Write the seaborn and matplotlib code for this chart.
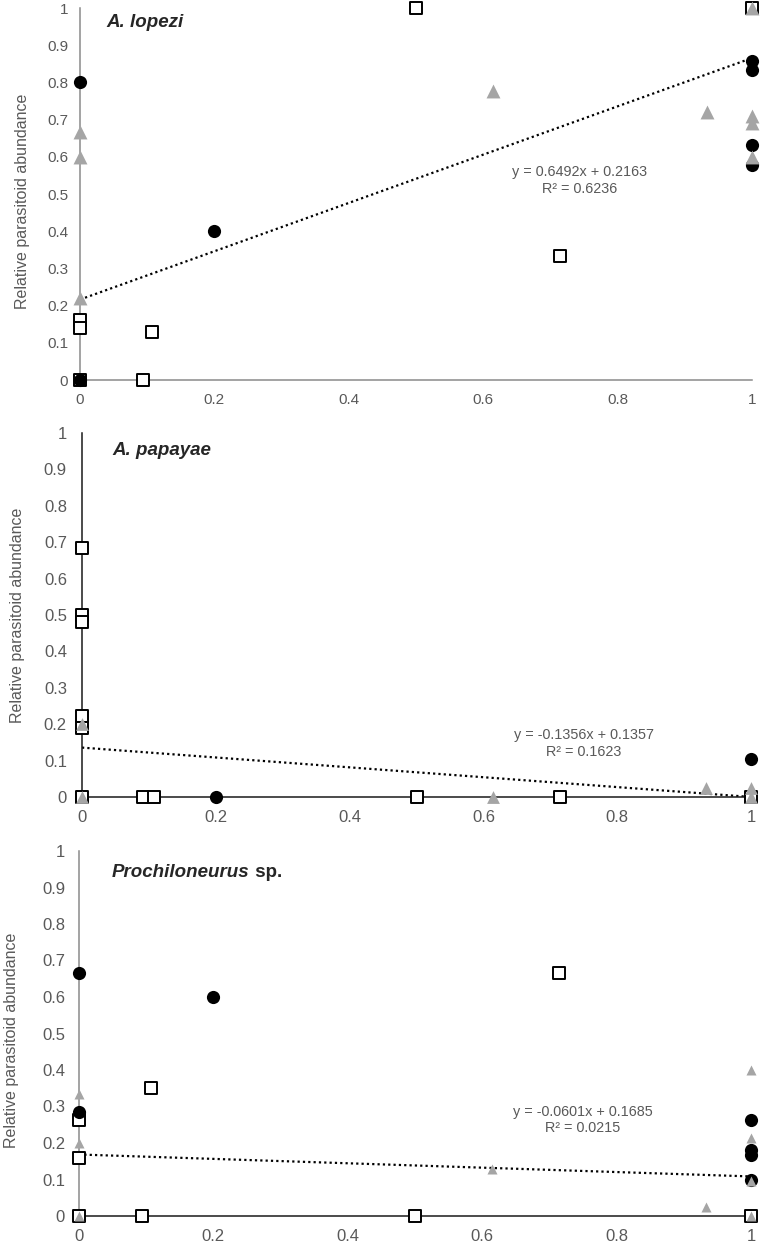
import numpy as np
import pandas as pd
import matplotlib
matplotlib.use("Agg")
import matplotlib.pyplot as plt
import seaborn as sns

sns.set_style("white")
plt.rcParams['font.family'] = ['Liberation Sans', 'DejaVu Sans']

# ---------------- data ----------------
titles = ["A. lopezi", "A. papayae", "Prochiloneurus"]
title_suffix = ["", "", " sp."]

# Panel 1: A. lopezi
p1_circ_x = [0, 0, 0.2, 1, 1, 1, 1]
p1_circ_y = [0.8, 0, 0.4, 0.857, 0.833, 0.632, 0.579]
p1_tri_x = [0, 0, 0, 0.614, 0.933, 1, 1, 1, 1]
p1_tri_y = [0.667, 0.6, 0.22, 0.778, 0.72, 1, 0.71, 0.69, 0.6]
p1_sq_x = [0, 0, 0, 0.107, 0.094, 0.5, 0.714, 1]
p1_sq_y = [0.16, 0.14, 0, 0.13, 0, 1, 0.333, 1]

# Panel 2: A. papayae
p2_circ_x = [0.2, 1]
p2_circ_y = [0, 0.105]
p2_tri_x = [0, 0, 0.614, 0.933, 1, 1]
p2_tri_y = [0.2, 0, 0, 0.025, 0.025, 0]
p2_sq_x = [0, 0, 0, 0, 0, 0, 0.091, 0.107, 0.5, 0.714, 1]
p2_sq_y = [0.684, 0.5, 0.48, 0.222, 0.19, 0, 0, 0, 0, 0, 0]

# Panel 3: Prochiloneurus sp.
p3_circ_x = [0, 0, 0.2, 1, 1, 1, 1]
p3_circ_y = [0.667, 0.286, 0.6, 0.263, 0.182, 0.167, 0.1]
p3_tri_x = [0, 0, 0, 0.614, 0.933, 1, 1, 1, 1]
p3_tri_y = [0.333, 0.2, 0, 0.13, 0.025, 0.4, 0.214, 0.095, 0]
p3_sq_x = [0, 0, 0, 0.107, 0.094, 0.5, 0.714, 1]
p3_sq_y = [0.263, 0.16, 0, 0.35, 0, 0, 0.667, 0]

# trend lines (slope, intercept, R2)
slopes = [0.6492, -0.1356, -0.0601]
intercepts = [0.2163, 0.1357, 0.1685]
r2s = [0.6236, 0.1623, 0.0215]

y_ticks = [0, 0.1, 0.2, 0.3, 0.4, 0.5, 0.6, 0.7, 0.8, 0.9, 1]
y_ticklabels = ["0", "0.1", "0.2", "0.3", "0.4", "0.5", "0.6", "0.7", "0.8", "0.9", "1"]
x_ticks = [0, 0.2, 0.4, 0.6, 0.8, 1]
x_ticklabels = ["0", "0.2", "0.4", "0.6", "0.8", "1"]
ylabel = "Relative parasitoid abundance"

panels = [
    (p1_circ_x, p1_circ_y, p1_tri_x, p1_tri_y, p1_sq_x, p1_sq_y),
    (p2_circ_x, p2_circ_y, p2_tri_x, p2_tri_y, p2_sq_x, p2_sq_y),
    (p3_circ_x, p3_circ_y, p3_tri_x, p3_tri_y, p3_sq_x, p3_sq_y),
]

# ---------------- layout ----------------
W, H = 764, 1241
fig = plt.figure(figsize=(W / 100, H / 100), dpi=100)
boxes = [  # left, right, bottom(px from top), top(px from top)
    (80, 752, 380, 8),
    (82, 751, 797, 433),
    (79, 751, 1216, 851),
]
spine_cols = [("#8a8a8a", "#8a8a8a"), ("#1a1a1a", "#1a1a1a"), ("#8a8a8a", "#1a1a1a")]
tick_fs = [11, 12, 12]
ypads = [8.6, 10.8, 10]
tri_sizes = [100, 85, 52]
label_x = [-0.085, -0.097, -0.1]
label_y = [0.48, 0.5, 0.48]
title_pos = [(0.04, 0.96), (0.046, 0.953), (0.049, 0.942)]
eq_pos = [(0.744, 0.56, 0.513), (0.75, 0.17, 0.124), (0.75, 0.285, 0.241)]

grey_txt = "#595959"
tri_col = "#a5a5a5"

for i, (l, r, b, t) in enumerate(boxes):
    ax = fig.add_axes([l / W, 1 - b / H, (r - l) / W, (b - t) / H])
    cx, cy, tx, ty, sx, sy = panels[i]

    # trend line
    xl = np.array([0.0, 1.0])
    ax.plot(xl, slopes[i] * xl + intercepts[i], color="black",
            linestyle=(0, (1, 1.4)), lw=1.6, zorder=2)

    sns.scatterplot(x=sx, y=sy, ax=ax, marker="s", s=74, facecolor="white",
                    edgecolor="black", linewidth=1.4, clip_on=False, zorder=3)
    sns.scatterplot(x=cx, y=cy, ax=ax, marker="o", s=90, color="black",
                    edgecolor="black", linewidth=0, clip_on=False, zorder=4)
    sns.scatterplot(x=tx, y=ty, ax=ax, marker="^", s=tri_sizes[i], color=tri_col,
                    edgecolor=tri_col, linewidth=0, clip_on=False, zorder=5)

    ax.set_xlim(0, 1)
    ax.set_ylim(0, 1)
    ax.set_xticks(x_ticks)
    ax.set_xticklabels(x_ticklabels)
    ax.set_yticks(y_ticks)
    ax.set_yticklabels(y_ticklabels)
    ax.tick_params(axis="both", length=0, labelsize=tick_fs[i], labelcolor=grey_txt)
    ax.tick_params(axis="y", pad=ypads[i])
    ax.tick_params(axis="x", pad=9.4)

    for s in ["top", "right"]:
        ax.spines[s].set_visible(False)
    ax.spines["left"].set_color(spine_cols[i][0])
    ax.spines["bottom"].set_color(spine_cols[i][1])
    ax.spines["left"].set_linewidth(1.1)
    ax.spines["bottom"].set_linewidth(1.1)
    ax.set_facecolor("white")
    ax.patch.set_alpha(0)

    ax.set_ylabel(ylabel, fontsize=11.5, color=grey_txt)
    ax.yaxis.label.set_va("center")
    ax.yaxis.set_label_coords(label_x[i], label_y[i])
    ax.set_xlabel("")

    # title
    tx0, ty0 = title_pos[i]
    if title_suffix[i]:
        tt = ax.text(tx0, ty0, titles[i], transform=ax.transAxes, fontsize=13.5,
                     fontweight="bold", fontstyle="italic", ha="left", va="center")
        fig.canvas.draw()
        bb = tt.get_window_extent()
        x_end = ax.transAxes.inverted().transform((bb.x1, bb.y0))[0]
        ax.text(x_end, ty0, title_suffix[i], transform=ax.transAxes, fontsize=13.5,
                fontweight="bold", ha="left", va="center")
    else:
        ax.text(tx0, ty0, titles[i], transform=ax.transAxes, fontsize=13.5,
                fontweight="bold", fontstyle="italic", ha="left", va="center")

    # equation
    ex, ey, ry = eq_pos[i]
    sign = "+" if intercepts[i] >= 0 else "-"
    ax.text(ex, ey, f"y = {slopes[i]:.4f}x {sign} {abs(intercepts[i]):.4f}",
            fontsize=10.4, color=grey_txt, ha="center", va="center")
    ax.text(ex, ry, f"R² = {r2s[i]:.4f}", fontsize=10.4, color=grey_txt,
            ha="center", va="center")

fig.savefig("out.png", dpi=100, facecolor="white")
